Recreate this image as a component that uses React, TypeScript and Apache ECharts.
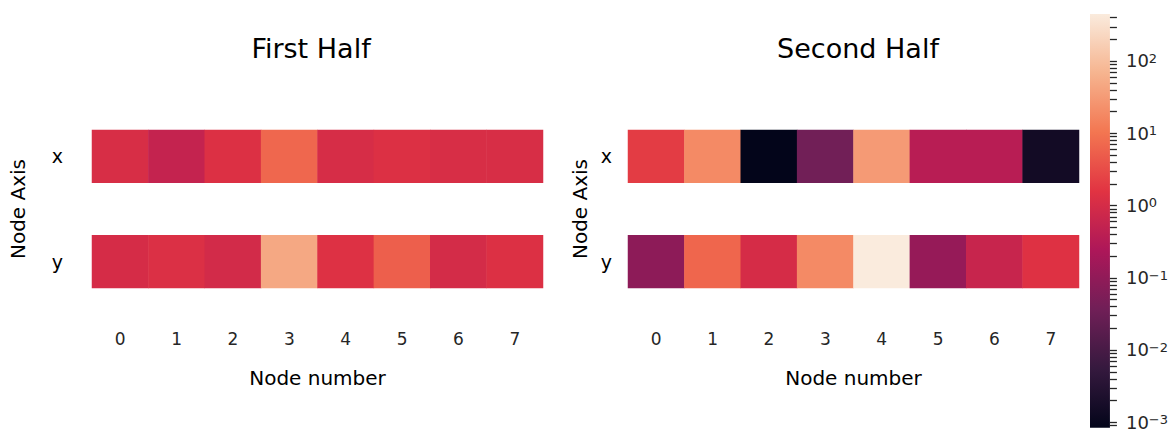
import React, { useEffect, useRef } from "react";
import * as echarts from "echarts";

// Node numbers along the x axis and the two node axes on the y axis
const nodes = ["0", "1", "2", "3", "4", "5", "6", "7"];
const nodeAxes = ["x", "", "y"];

// Values per node (log-scaled colouring)
const firstHalfX = [1.1, 0.54, 1.3, 6.7, 1.05, 1.3, 1.1, 1.1];
const firstHalfY = [1.0, 1.25, 0.9, 47, 1.35, 5.4, 0.95, 1.3];
const secondHalfX = [2.0, 19, 0.00083, 0.037, 31, 0.36, 0.36, 0.0015];
const secondHalfY = [0.087, 6.5, 1.0, 19, 447, 0.115, 0.62, 1.4];

// Colour bar tick labels (powers of ten)
const decadeTicks = [-3, -2, -1, 0, 1, 2];

// "rocket" colour map, dark to light
const ROCKET = ["#03051a", "#35193e", "#701f57", "#ad1759", "#e13342", "#f37651", "#f6b48f", "#faebdd"];

const FONT = "DejaVu Sans";
const TEXT = "#262626";

const allValues = [...firstHalfX, ...firstHalfY, ...secondHalfX, ...secondHalfY];
const LOG_MIN = Math.log10(Math.min(...allValues));
const LOG_MAX = Math.log10(Math.max(...allValues));

function toCells(xs: number[], ys: number[]) {
  const out: number[][] = [];
  xs.forEach((v, i) => out.push([i, 0, Math.log10(v)]));
  ys.forEach((v, i) => out.push([i, 2, Math.log10(v)]));
  return out;
}

// colour bar ticks at m * 10^k
const logTicks: number[] = [];
for (let k = Math.floor(LOG_MIN); k <= Math.ceil(LOG_MAX); k++) {
  for (let m = 1; m <= 9; m++) {
    const t = k + Math.log10(m);
    if (t >= LOG_MIN - 1e-9 && t <= LOG_MAX + 1e-9) logTicks.push(t);
  }
}

const supText = (v: number) => {
  const n = Math.round(v);
  return n < 0 ? "\u2212" + String(-n) : String(n);
};

export default function App() {
  const ref = useRef<HTMLDivElement>(null);

  useEffect(() => {
    document.body.style.margin = "0";
    if (!ref.current) return;
    const chart = echarts.init(ref.current, null, { renderer: "svg" });

    const heatX = (gridIndex: number) => ({
      type: "category",
      gridIndex,
      data: nodes,
      axisLine: { show: false },
      axisTick: { show: false },
      splitLine: { show: false },
      axisLabel: { margin: 42, fontSize: 17, color: TEXT, fontFamily: FONT },
      name: "Node number",
      nameLocation: "middle",
      nameGap: 80,
      nameTextStyle: { fontSize: 20, color: "#000", fontFamily: FONT },
    });
    const heatY = (gridIndex: number, margin: number, nameGap: number) => ({
      type: "category",
      gridIndex,
      data: nodeAxes,
      inverse: true,
      axisLine: { show: false },
      axisTick: { show: false },
      splitLine: { show: false },
      axisLabel: { margin, fontSize: 19, color: "#000", fontFamily: FONT },
      name: "Node Axis",
      nameLocation: "middle",
      nameGap,
      nameTextStyle: { fontSize: 20, color: "#000", fontFamily: FONT },
    });

    const gradientStops = ROCKET.slice()
      .reverse()
      .map((c, i) => ({ offset: i / (ROCKET.length - 1), color: c }));

    chart.setOption({
      animation: false,
      backgroundColor: "#fff",
      graphic: [
        {
          type: "text",
          x: 311,
          y: 48,
          style: { text: "First Half", fontSize: 27, fontFamily: FONT, fill: "#000", textAlign: "center", textVerticalAlign: "middle" },
        },
        {
          type: "text",
          x: 858,
          y: 48,
          style: { text: "Second Half", fontSize: 27, fontFamily: FONT, fill: "#000", textAlign: "center", textVerticalAlign: "middle" },
        },
      ],
      grid: [
        { left: 92, top: 130, width: 451, height: 158 },
        { left: 628, top: 130, width: 451, height: 158 },
        { left: 1090, top: 14, width: 21, height: 416 },
      ],
      xAxis: [
        heatX(0),
        heatX(1),
        { type: "value", gridIndex: 2, min: 0, max: 1, show: false },
      ],
      yAxis: [
        heatY(0, 29, 64),
        heatY(1, 16, 38),
        {
          type: "value",
          gridIndex: 2,
          position: "right",
          min: LOG_MIN,
          max: LOG_MAX,
          axisLine: { show: false },
          splitLine: { show: false },
          axisTick: { show: false },
          axisLabel: {
            customValues: decadeTicks,
            margin: 16,
            formatter: (v: number) => `{b|10}{s|${supText(v)}}`,
            rich: {
              b: { fontSize: 18, lineHeight: 18, color: TEXT, fontFamily: FONT, verticalAlign: "bottom" },
              s: { fontSize: 13, lineHeight: 13, color: TEXT, fontFamily: FONT, verticalAlign: "top" },
            },
          },
        },
      ],
      visualMap: {
        type: "continuous",
        show: false,
        min: LOG_MIN,
        max: LOG_MAX,
        dimension: 2,
        seriesIndex: [0, 1],
        inRange: { color: ROCKET },
      },
      series: [
        {
          type: "heatmap",
          xAxisIndex: 0,
          yAxisIndex: 0,
          data: toCells(firstHalfX, firstHalfY),
          emphasis: { disabled: true },
        },
        {
          type: "heatmap",
          xAxisIndex: 1,
          yAxisIndex: 1,
          data: toCells(secondHalfX, secondHalfY),
          emphasis: { disabled: true },
        },
        {
          // colour bar gradient
          type: "custom",
          xAxisIndex: 2,
          yAxisIndex: 2,
          silent: true,
          clip: false,
          data: [[0, LOG_MIN, 1, LOG_MAX]],
          renderItem: (_params: any, api: any) => {
            const p0 = api.coord([api.value(0), api.value(3)]);
            const p1 = api.coord([api.value(2), api.value(1)]);
            return {
              type: "rect",
              shape: { x: p0[0], y: p0[1], width: p1[0] - p0[0], height: p1[1] - p0[1] },
              style: { fill: new echarts.graphic.LinearGradient(0, 0, 0, 1, gradientStops) },
            };
          },
        },
        {
          // colour bar tick marks (major and minor)
          type: "custom",
          xAxisIndex: 2,
          yAxisIndex: 2,
          silent: true,
          clip: false,
          data: logTicks.map((t) => [1, t]),
          renderItem: (_params: any, api: any) => {
            const p = api.coord([api.value(0), api.value(1)]);
            const y = Math.round(p[1]) + 0.5;
            return {
              type: "line",
              shape: { x1: p[0], y1: y, x2: p[0] + 7, y2: y },
              style: { stroke: TEXT, lineWidth: 1.3 },
            };
          },
        },
      ],
    });

    return () => chart.dispose();
  }, []);

  return <div ref={ref} style={{ width: 1171, height: 431 }} />;
}
